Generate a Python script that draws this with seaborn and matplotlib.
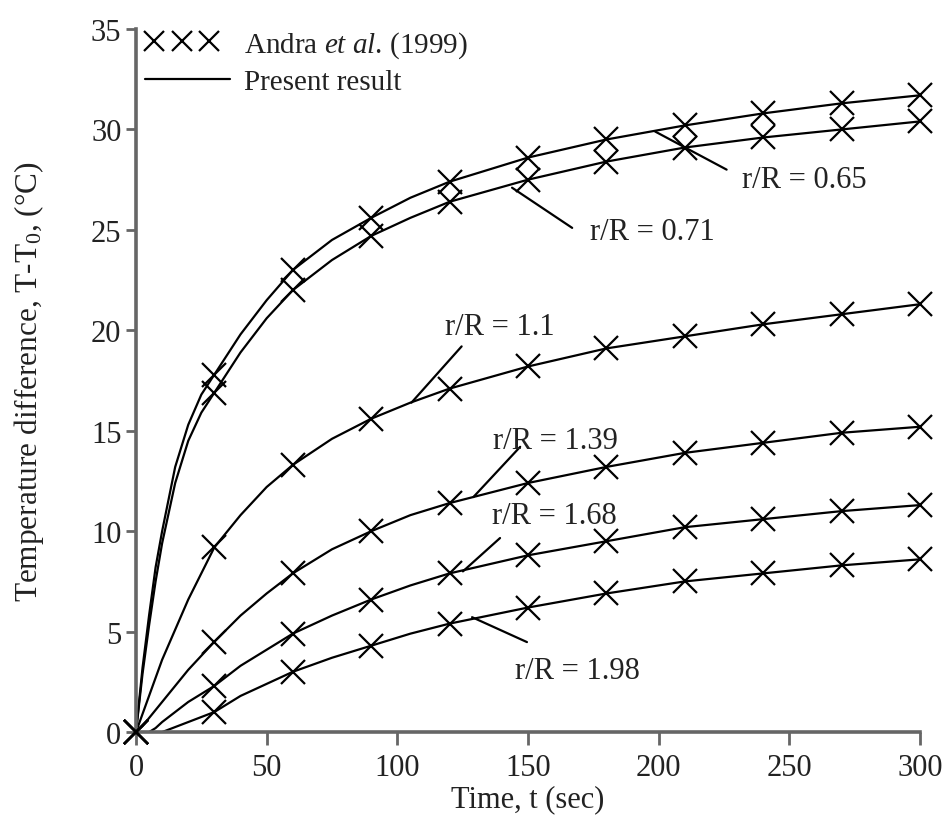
import numpy as np
import pandas as pd
import seaborn as sns
import matplotlib.pyplot as plt
from matplotlib.lines import Line2D
from matplotlib.legend_handler import HandlerLine2D

sns.set_style('ticks')
plt.rcParams['font.family'] = ['Liberation Serif', 'DejaVu Serif']
plt.rcParams['mathtext.fontset'] = 'custom'
plt.rcParams['mathtext.rm'] = 'Liberation Serif'
plt.rcParams['mathtext.it'] = 'Liberation Serif:italic'

# Andra et al. (1999) measurements, every 30 s
marker_t = [0, 30, 60, 90, 120, 150, 180, 210, 240, 270, 300]
andra_065 = [0, 17.8, 23.0, 25.6, 27.4, 28.6, 29.5, 30.2, 30.8, 31.3, 31.7]
andra_071 = [0, 16.9, 22.0, 24.7, 26.4, 27.5, 28.4, 29.1, 29.6, 30.0, 30.4]
andra_110 = [0, 9.2, 13.3, 15.6, 17.1, 18.2, 19.1, 19.7, 20.3, 20.8, 21.3]
andra_139 = [0, 4.5, 7.9, 10.0, 11.4, 12.4, 13.2, 13.9, 14.4, 14.9, 15.2]
andra_168 = [0, 2.3, 4.9, 6.6, 7.9, 8.8, 9.5, 10.2, 10.6, 11.0, 11.3]
andra_198 = [0, 1.0, 3.0, 4.3, 5.4, 6.2, 6.9, 7.5, 7.9, 8.3, 8.6]

# present result
line_t = [0, 2.5, 5, 7.5, 10, 15, 20, 25, 30, 40, 50, 60, 75, 90, 105, 120,
          150, 180, 210, 240, 270, 300]
line_065 = [0, 3.2, 5.8, 8.2, 10.0, 13.2, 15.3, 16.8, 17.8, 19.8, 21.5, 23.0,
            24.5, 25.6, 26.6, 27.4, 28.6, 29.5, 30.2, 30.8, 31.3, 31.7]
line_071 = [0, 2.9, 5.3, 7.5, 9.4, 12.4, 14.5, 15.9, 16.9, 18.9, 20.6, 22.0,
            23.5, 24.7, 25.6, 26.4, 27.5, 28.4, 29.1, 29.6, 30.0, 30.4]
line_110 = [0, 0.9, 1.8, 2.7, 3.6, 5.1, 6.6, 7.9, 9.2, 10.8, 12.2, 13.3,
            14.6, 15.6, 16.4, 17.1, 18.2, 19.1, 19.7, 20.3, 20.8, 21.3]
line_139 = [0, 0.3, 0.7, 1.1, 1.5, 2.3, 3.1, 3.8, 4.5, 5.8, 6.9, 7.9,
            9.1, 10.0, 10.8, 11.4, 12.4, 13.2, 13.9, 14.4, 14.9, 15.2]
line_168 = [0, 0, 0, 0.2, 0.5, 1.0, 1.5, 1.9, 2.3, 3.3, 4.1, 4.9,
            5.8, 6.6, 7.3, 7.9, 8.8, 9.5, 10.2, 10.6, 11.0, 11.3]
line_198 = [0, 0, 0, 0, 0, 0.25, 0.5, 0.75, 1.0, 1.8, 2.4, 3.0,
            3.7, 4.3, 4.9, 5.4, 6.2, 6.9, 7.5, 7.9, 8.3, 8.6]

ratios = ['0.65', '0.71', '1.1', '1.39', '1.68', '1.98']
andra = [andra_065, andra_071, andra_110, andra_139, andra_168, andra_198]
lines = [line_065, line_071, line_110, line_139, line_168, line_198]

df_line = pd.concat([pd.DataFrame({'t': line_t, 'T': v, 'r': r}) for r, v in zip(ratios, lines)])
df_pts = pd.concat([pd.DataFrame({'t': marker_t, 'T': v, 'r': r}) for r, v in zip(ratios, andra)])
black = {r: 'black' for r in ratios}


class CrossHandler(HandlerLine2D):
    # three crosses packed at the left of the handle
    def get_xdata(self, legend, xdescent, ydescent, width, height, fontsize):
        xm = -xdescent + 12.8 + np.arange(3) * 19.8
        return xm, xm


FS = 22
fig = plt.figure(figsize=(9.47, 8.2), dpi=100)
ax = fig.add_axes([0.1436, 0.106, 0.8279, 0.8574])

sns.lineplot(data=df_line, x='t', y='T', hue='r', palette=black, estimator=None,
             sort=True, linewidth=1.6, legend=False, ax=ax)
for r in ratios:
    d = df_pts[df_pts.r == r]
    ax.plot(d.t, d['T'], ls='none', marker='x', color='black', markersize=17,
            markeredgewidth=1.6, clip_on=False, zorder=3)

# leader lines and labels
labels = [
    ('0.65', (198.6, 29.9), (226.0, 28.0), (232.0, 27.5)),
    ('0.71', (143.9, 27.1), (166.9, 25.1), (173.7, 24.9)),
    ('1.1', (105.4, 16.4), (124.6, 19.2), (118.3, 20.2)),
    ('1.39', (129.1, 11.7), (147.0, 14.2), (136.7, 14.5)),
    ('1.68', (125.1, 8.0), (139.3, 9.66), (136.2, 10.8)),
    ('1.98', (128.6, 5.72), (149.6, 4.48), (145.0, 3.09)),
]
for r, p0, p1, pt in labels:
    ax.plot([p0[0], p1[0]], [p0[1], p1[1]], color='black', lw=1.6)
    ax.text(pt[0], pt[1], 'r/R = ' + r, fontsize=FS, ha='left', va='center',
            color='#222222')

ax.set_xlim(0, 300)
ax.set_ylim(0, 35)
ax.set_xticks(np.arange(0, 301, 50))
ax.set_yticks(np.arange(0, 36, 5))
ax.tick_params(labelsize=FS, length=7, width=2, color='#666666',
               labelcolor='#222222', direction='out')
ax.tick_params(axis='x', length=9, pad=6)
sns.despine(ax=ax)
for s in ['left', 'bottom']:
    ax.spines[s].set_linewidth(2.6)
    ax.spines[s].set_color('#666666')

ax.set_xlabel('Time, t (sec)', fontsize=FS, color='#222222', labelpad=2)
ax.set_ylabel('Temperature difference, T-T$_0$, (°C)', fontsize=FS + 0.5,
              color='#222222', labelpad=32)

handles = [Line2D([], [], ls='none', marker='x', color='black', markersize=14,
                  markeredgewidth=1.6),
           Line2D([], [], color='black', lw=1.6)]
ax.legend(handles, ['Andra $\\it{et\\ al}$. (1999)', 'Present result'],
          loc='upper left', bbox_to_anchor=(-0.022, 1.025), frameon=False,
          fontsize=FS - 1, numpoints=3, handlelength=3.5, handletextpad=0.2,
          labelspacing=0.3, borderaxespad=0.2, labelcolor='#222222',
          handler_map={handles[0]: CrossHandler()})

fig.savefig('out.png', dpi=100)
